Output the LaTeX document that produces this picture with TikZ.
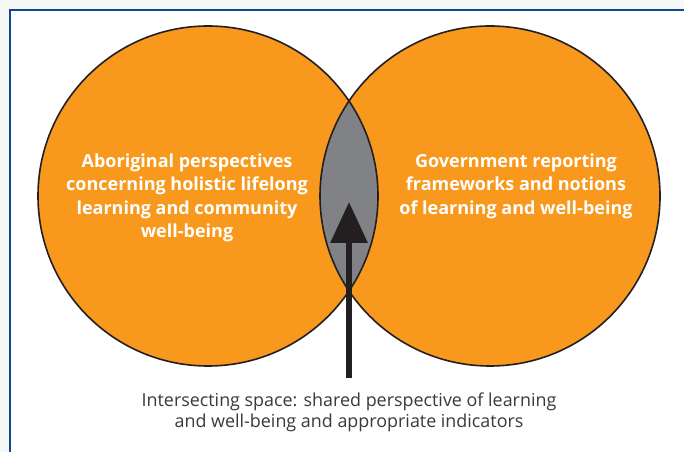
\documentclass[tikz,border=0pt]{standalone}
\usepackage{fontspec}
\setmainfont{Open Sans}
\usetikzlibrary{arrows.meta}
\definecolor{vennorange}{HTML}{F8991D}
\definecolor{venngray}{HTML}{808285}
\definecolor{vennline}{HTML}{231F20}
\definecolor{frameblue}{HTML}{0D4A8E}
\definecolor{captiongray}{HTML}{3A3A3A}
\tikzset{
    outline/.style={draw=vennline, line width=1.6pt},
    circletext/.style={text=white, font=\bfseries\fontsize{18}{23.5}\selectfont, align=center},
    caption/.style={text=captiongray, font=\fontsize{17.9}{21}\selectfont, align=center},
    bigarrow/.style={draw=vennline, line width=6.5pt, -{Triangle[width=36pt,length=41pt]}}
}

\begin{document}
\begin{tikzpicture}[x=1pt, y=1pt]
    \useasboundingbox (0,0) rectangle (684,452);
    \fill[black!3] (0,0) rectangle (684,452);
    \fill[white] (10,0) rectangle (684,442);
    \draw[frameblue, line width=2pt] (10,0) -- (10,442) -- (684,442);

    \coordinate (L) at (208,256);
    \coordinate (R) at (490,256);
    \fill[vennorange] (L) circle (170pt);
    \fill[vennorange] (R) circle (170pt);
    \begin{scope}
        \clip (L) circle (170pt);
        \fill[venngray] (R) circle (170pt);
    \end{scope}
    \draw[outline] (L) circle (170pt);
    \draw[outline] (R) circle (170pt);

    \node[circletext] at (187,254) (aboriginal) {Aboriginal perspectives\\concerning holistic lifelong\\learning and community\\well-being};
    \node[circletext] at (516,266) (government) {Government reporting\\frameworks and notions\\of learning and well-being};

    \coordinate (foot) at (349,74);
    \coordinate (tip) at (349,250);
    \draw[bigarrow] (foot) -- (tip);

    \node[caption] at (349,40) (shared) {Intersecting space: shared perspective of learning\\and well-being and appropriate indicators};
\end{tikzpicture}
\end{document}
